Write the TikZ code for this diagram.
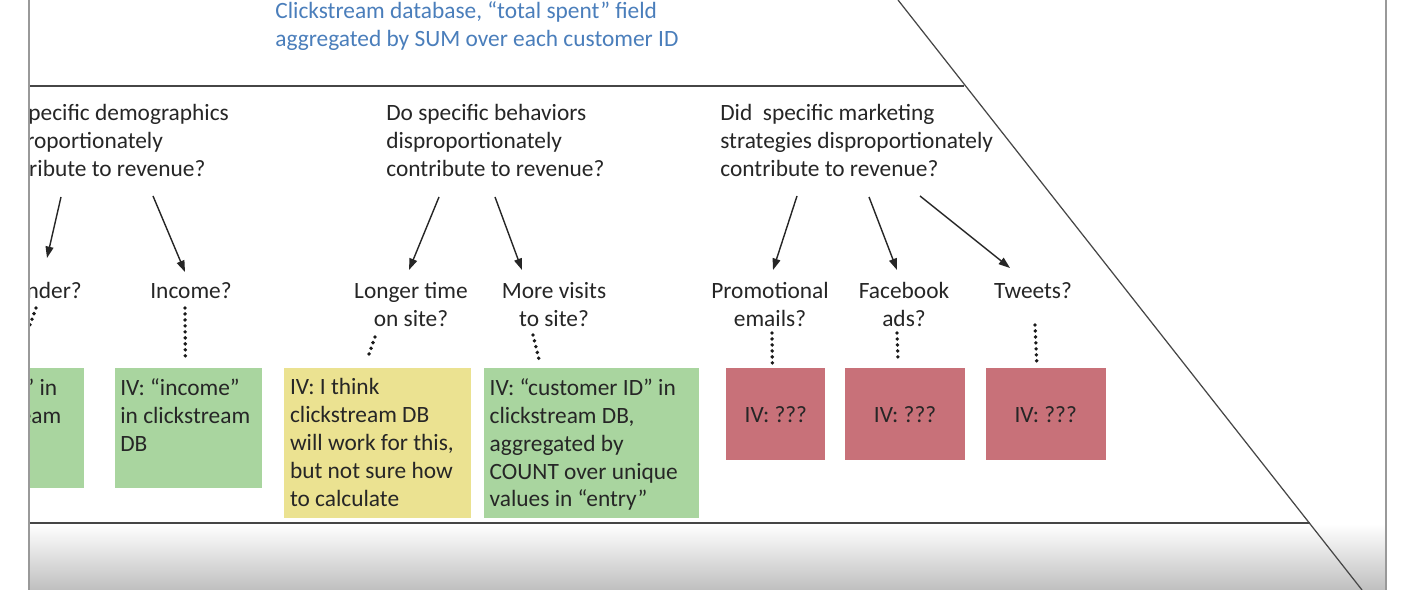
\documentclass[tikz,border=0pt]{standalone}
\usepackage{fontspec}
\setmainfont{Carlito}
\usetikzlibrary{positioning,arrows.meta}
\definecolor{ink}{RGB}{38,38,38}
\definecolor{note}{RGB}{74,126,187}
\definecolor{ivgreen}{RGB}{169,213,159}
\definecolor{ivyellow}{RGB}{235,226,145}
\definecolor{ivred}{RGB}{200,113,121}
\definecolor{rulegray}{RGB}{70,70,70}

\begin{document}
\begin{tikzpicture}[x=0.02cm,y=-0.02cm,
  every node/.style={font=\fontsize{13.3}{15.9}\selectfont,text=ink,inner sep=0pt},
  qtext/.style={anchor=north west,align=left},
  sub/.style={anchor=north,align=center},
  ivbox/.style={anchor=north west},
  arr/.style={-{Triangle[length=6.5pt,width=4.5pt]},line width=0.8pt,draw=black!85},
  dots/.style={line width=2.2pt,dash pattern=on 0pt off 3.4pt,line cap=round,draw=black!90}]
\useasboundingbox (0,0) rectangle (1408,590);
% slide background: frame, bottom shading and the two bones
\fill[white] (0,0) rectangle (1408,590);
\shade[top color=white,bottom color=black!25] (29,524) rectangle (1386,590);
\draw[line width=1.6pt,rulegray] (29,86) -- (964,86);
\draw[line width=1.6pt,rulegray] (29,523) -- (1310,523);
\draw[line width=0.7pt,rulegray] (898,0) -- (1362,590);

\begin{scope}
\clip (29,0) rectangle (1408,590);
\node[qtext,text=note] (src) at (275,1) {Clickstream database, “total spent” field\\aggregated by SUM over each customer ID};
% three questions
\node[qtext] (q1) at (-13,104) {Do specific demographics\\disproportionately\\contribute to revenue?};
\node[qtext] (q2) at (386,104) {Do specific behaviors\\disproportionately\\contribute to revenue?};
\node[qtext] (q3) at (720,104) {Did\ \ specific marketing\\strategies disproportionately\\contribute to revenue?};
% sub questions
\node[sub] (gen) at (41,282) {Gender?};
\node[sub] (inc) at (191,282) {Income?};
\node[sub] (lt) at (411,282) {Longer time\\on site?};
\node[sub] (mv) at (554,282) {More visits\\to site?};
\node[sub] (pe) at (770,282) {Promotional\\emails?};
\node[sub] (fb) at (904,282) {Facebook\\ads?};
\node[sub] (tw) at (1033,282) {Tweets?};
% IV boxes
\node[ivbox,fill=ivgreen,minimum width=2.7cm,minimum height=2.4cm] (b0) at (-51,368) {};
\node[ivbox,fill=ivgreen,minimum width=2.94cm,minimum height=2.4cm] (b1) at (115,368) {};
\node[ivbox,fill=ivyellow,minimum width=3.74cm,minimum height=3cm,right=0.42cm of b1.north east,anchor=north west] (b2) {};
\node[ivbox,fill=ivgreen,minimum width=4.3cm,minimum height=3cm,right=0.24cm of b2.north east,anchor=north west] (b3) {};
\node[ivbox,fill=ivred,minimum width=1.98cm,minimum height=1.84cm] (r1) at (726,368) {IV: ???};
\node[ivbox,fill=ivred,minimum width=2.4cm,minimum height=1.84cm,right=0.38cm of r1.north east,anchor=north west] (r2) {IV: ???};
\node[ivbox,fill=ivred,minimum width=2.4cm,minimum height=1.84cm,right=0.4cm of r2.north east,anchor=north west] (r3) {IV: ???};
\node[qtext] (t0) at ([shift={(5,10)}]b0.north west) {IV: “sex” in\\clickstream\\DB};
\node[qtext] (t1) at ([shift={(5,10)}]b1.north west) {IV: “income”\\in clickstream\\DB};
\node[qtext] (t2) at ([shift={(6,10)}]b2.north west) {IV: I think\\clickstream DB\\will work for this,\\but not sure how\\to calculate};
\node[qtext] (t3) at ([shift={(6,10)}]b3.north west) {IV: “customer ID” in\\clickstream DB,\\aggregated by\\COUNT over unique\\values in “entry”};
% arrows
\draw[arr] ([shift={(74,93)}]q1.north west) -- ([shift={(6,-24)}]gen.north);
\draw[arr] ([shift={(166,92)}]q1.north west) -- ([shift={(-6,-10)}]inc.north);
\draw[arr] ([shift={(53,93)}]q2.north west) -- ([shift={(-2,-12)}]lt.north);
\draw[arr] ([shift={(109,93)}]q2.north west) -- ([shift={(-32,-12)}]mv.north);
\draw[arr] ([shift={(77,92)}]q3.north west) -- ([shift={(3,-12)}]pe.north);
\draw[arr] ([shift={(149,93)}]q3.north west) -- ([shift={(-7,-12)}]fb.north);
\draw[arr] ([shift={(200,92)}]q3.north west) -- ([shift={(-23,-14)}]tw.north);
% dotted links to the IV boxes
\draw[dots] ([shift={(-5,26)}]gen.north) -- ([shift={(1.5,-11)}]b0.north);
\draw[dots] ([shift={(-6,26)}]inc.north) -- ([shift={(-3.5,-11)}]b1.north);
\draw[dots] ([shift={(-36,55)}]lt.north) -- ([shift={(-9.5,-11)}]b2.north);
\draw[dots] ([shift={(-21,53)}]mv.north) -- ([shift={(-51.5,-6)}]b3.north);
\draw[dots] ([shift={(2,51)}]pe.north) -- ([shift={(-3.5,-5)}]r1.north);
\draw[dots] ([shift={(-7,51)}]fb.north) -- ([shift={(-7,-8)}]r2.north);
\draw[dots] ([shift={(2,43)}]tw.north) -- ([shift={(-9,-6)}]r3.north);
\end{scope}
\draw[line width=1.4pt,black!40] (29,0) -- (29,590) (1386,0) -- (1386,590);
\end{tikzpicture}
\end{document}
